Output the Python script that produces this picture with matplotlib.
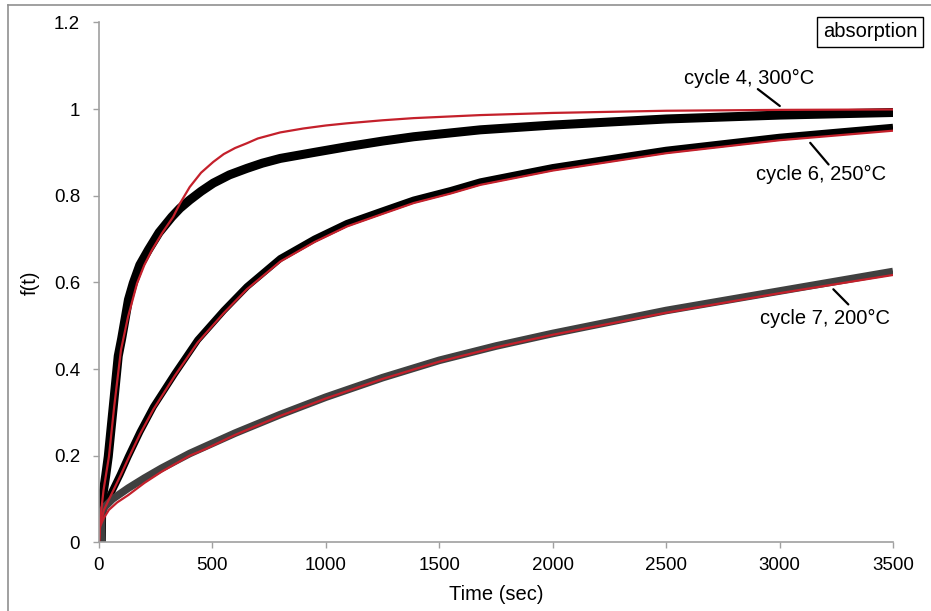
import matplotlib.pyplot as plt
from matplotlib.lines import Line2D
from matplotlib.ticker import FuncFormatter

plt.rcParams['font.family'] = ['Liberation Sans', 'DejaVu Sans']

# cycle 4, 300°C - measured
t300 = [10, 12, 19, 30, 41, 63, 85, 100, 115, 130, 151, 180, 218, 265, 321, 357, 400, 450, 504, 575, 652, 720, 799, 950, 1093, 1250, 1387, 1681, 2000, 2500, 3000, 3500]
f300 = [0.0, 0.08, 0.116, 0.155, 0.198, 0.313, 0.43, 0.47, 0.515, 0.56, 0.598, 0.64, 0.675, 0.715, 0.751, 0.771, 0.79, 0.81, 0.829, 0.848, 0.863, 0.875, 0.886, 0.9, 0.913, 0.926, 0.936, 0.952, 0.963, 0.977, 0.986, 0.992]
# cycle 4 fit
t300_fit = [0, 5, 20, 44, 67, 97, 128, 168, 200, 234, 280, 327, 357, 400, 450, 504, 550, 600, 652, 700, 799, 900, 1000, 1093, 1250, 1387, 1681, 2000, 2500, 3000, 3500]
f300_fit = [0, 0.05, 0.12, 0.198, 0.313, 0.444, 0.52, 0.598, 0.64, 0.675, 0.715, 0.751, 0.782, 0.82, 0.853, 0.878, 0.896, 0.91, 0.921, 0.932, 0.946, 0.955, 0.962, 0.967, 0.974, 0.979, 0.986, 0.991, 0.996, 0.998, 0.999]

# cycle 6, 250°C
t250 = [10, 13, 22, 56, 93, 129, 181, 240, 335, 435, 550, 652, 799, 950, 1093, 1250, 1387, 1550, 1681, 2000, 2500, 3000, 3500]
f250 = [0.0, 0.06, 0.078, 0.116, 0.156, 0.198, 0.255, 0.313, 0.39, 0.467, 0.535, 0.59, 0.655, 0.7, 0.736, 0.765, 0.79, 0.812, 0.832, 0.865, 0.905, 0.935, 0.958]
t250_fit = [0, 5, 22, 56, 93, 129, 181, 240, 335, 435, 550, 652, 799, 950, 1093, 1250, 1387, 1550, 1681, 2000, 2500, 3000, 3500]
f250_fit = [0, 0.04, 0.075, 0.112, 0.152, 0.193, 0.25, 0.307, 0.385, 0.461, 0.529, 0.584, 0.648, 0.693, 0.729, 0.758, 0.783, 0.805, 0.825, 0.858, 0.898, 0.928, 0.95]

# cycle 7, 200°C
t200 = [10, 12, 26, 60, 129, 200, 276, 400, 468, 600, 800, 1000, 1250, 1500, 1750, 2000, 2500, 3000, 3500]
f200 = [0.0, 0.07, 0.082, 0.1, 0.125, 0.148, 0.171, 0.205, 0.221, 0.252, 0.295, 0.335, 0.38, 0.42, 0.453, 0.482, 0.535, 0.58, 0.625]
t200_fit = [0, 5, 20, 44, 80, 129, 200, 276, 400, 468, 600, 800, 1000, 1250, 1500, 1750, 2000, 2500, 3000, 3500]
f200_fit = [0, 0.036, 0.055, 0.075, 0.092, 0.109, 0.137, 0.163, 0.2, 0.215, 0.248, 0.292, 0.332, 0.377, 0.417, 0.45, 0.479, 0.53, 0.575, 0.617]

labels = ["cycle 4, 300°C", "cycle 6, 250°C", "cycle 7, 200°C"]

fig = plt.figure(figsize=(9.31, 6.11), dpi=100)
ax = fig.add_axes([0.1063, 0.1124, 0.8529, 0.851])

red = '#c4202b'
ax.plot(t300, f300, color='black', lw=6.5, solid_capstyle='butt', solid_joinstyle='round')
ax.plot(t250, f250, color='black', lw=5, solid_capstyle='butt', solid_joinstyle='round')
ax.plot(t200, f200, color='#404040', lw=5.5, solid_capstyle='butt', solid_joinstyle='round')
ax.plot(t300_fit, f300_fit, color=red, lw=1.6)
ax.plot(t250_fit, f250_fit, color=red, lw=1.6)
ax.plot(t200_fit, f200_fit, color=red, lw=1.6)

ax.set_xlim(0, 3500)
ax.set_ylim(0, 1.2)
ax.set_xticks(range(0, 3501, 500))
ax.set_yticks([0, 0.2, 0.4, 0.6, 0.8, 1.0, 1.2])
ax.yaxis.set_major_formatter(FuncFormatter(lambda v, p: '%g' % round(v, 1)))

for s in ['top', 'right']:
    ax.spines[s].set_visible(False)
for s in ['left', 'bottom']:
    ax.spines[s].set_color('#a0a0a0')
    ax.spines[s].set_linewidth(1.2)
ax.tick_params(direction='out', length=4.5, width=1, color='#a0a0a0', labelsize=13.5)
ax.tick_params(axis='y', pad=9)
ax.tick_params(axis='x', pad=6)

ax.set_xlabel("Time (sec)", fontsize=14.5, labelpad=8)
ax.set_ylabel("f(t)", fontsize=14.5, labelpad=10)

# label leader lines
line_kw = dict(arrowstyle='-', color='black', lw=1.6, shrinkA=0, shrinkB=0)
ax.annotate('', xy=(3001, 1.007), xytext=(2904, 1.046), arrowprops=line_kw)
ax.annotate('', xy=(3135, 0.922), xytext=(3216, 0.872), arrowprops=line_kw)
ax.annotate('', xy=(3237, 0.584), xytext=(3303, 0.549), arrowprops=line_kw)

kw = dict(fontsize=14.5, ha='center', va='center')
ax.text(2864, 1.0715, labels[0], **kw)
ax.text(3182, 0.85, labels[1], **kw)
ax.text(3200, 0.517, labels[2], **kw)

ax.text(0.971, 0.982, "absorption", transform=ax.transAxes, ha='center', va='center', fontsize=14.5,
        bbox=dict(boxstyle='square,pad=0.28', fc='white', ec='black', lw=1), clip_on=False)

# outer frame (only left and top visible)
fig.add_artist(Line2D([0.0086, 0.0086], [0, 0.9918], color='#909090', lw=1.2, transform=fig.transFigure))
fig.add_artist(Line2D([0.0086, 1], [0.9918, 0.9918], color='#909090', lw=1.2, transform=fig.transFigure))

fig.savefig('out.png', dpi=100)
